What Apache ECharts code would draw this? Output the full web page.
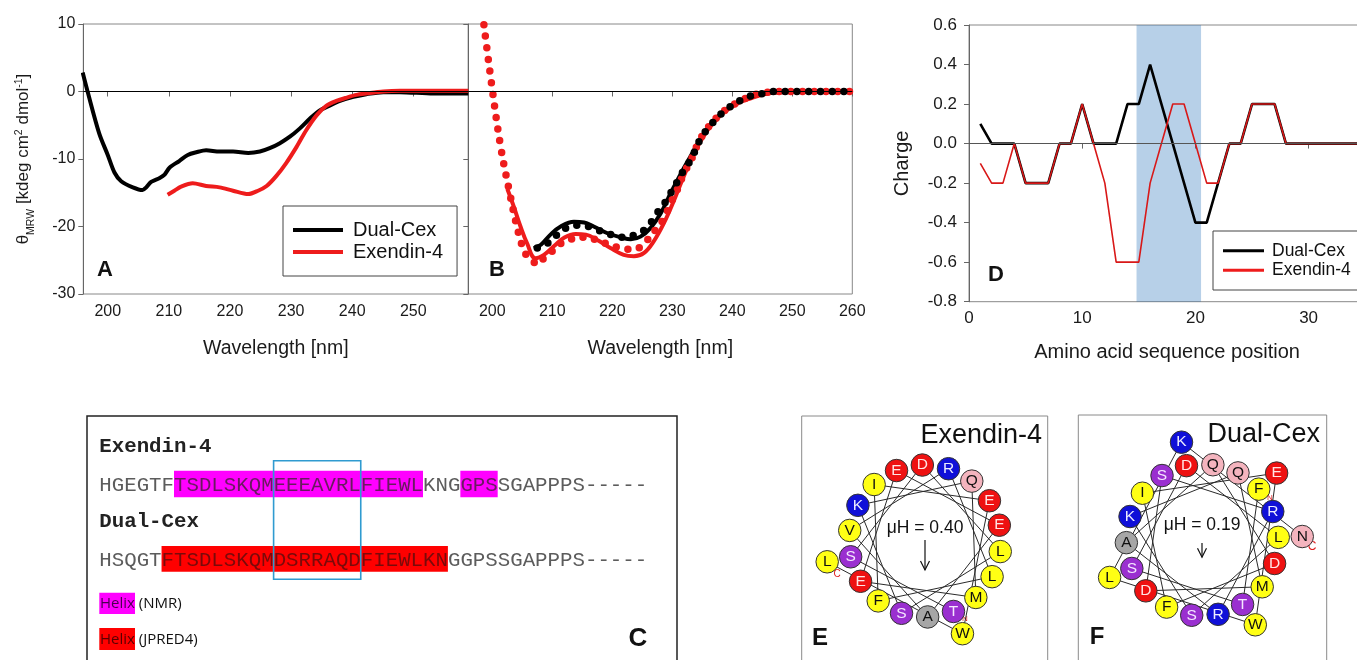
<!DOCTYPE html>
<html><head><meta charset="utf-8">
<script src="https://cdn.jsdelivr.net/npm/echarts@6/dist/echarts.min.js"></script>
<style>html,body{margin:0;padding:0;background:#fff}#c{width:1357px;height:660px}</style>
</head><body><div id="c"></div>
<script>
// ---------- Panel A (CD spectra) ----------
const aDualWl  = [195.9,196.7,198.6,200,201.1,202.2,204.1,205.7,206.3,207.1,208.5,209.3,210.1,211.7,213.1,214.5,216.1,218.3,220.5,223,224.9,226.5,228.1,229.8,231.4,233.1,234.7,236.3,238,240.2,242.3,245.1,247.8,253.3,259];
const aDualVal = [2.8,0,-6.2,-9.4,-12,-13.3,-14.2,-14.6,-14.2,-13.4,-12.8,-12.3,-11.3,-10.3,-9.4,-9,-8.7,-8.9,-8.9,-9.1,-8.9,-8.4,-7.7,-6.7,-5.5,-4,-2.8,-2.1,-1.4,-0.8,-0.4,-0.1,-0.1,-0.3,-0.3];
const aExWl  = [209.8,210.9,212,213.9,216.1,218.3,220.5,223,224.6,226,227.6,229.2,230.9,232.5,234.2,235.8,237.4,239.1,240.7,242.3,245.1,247.8,259];
const aExVal = [-15.3,-14.7,-14.1,-13.6,-14,-14.2,-14.7,-15.2,-14.7,-14,-12.5,-10.6,-8.2,-5.7,-3.5,-2.1,-1.4,-0.9,-0.5,-0.3,0,0.1,0.1];
// ---------- Panel B (measured dots + fitted lines) ----------
const bExFitWl  = [202.5,203.6,204.7,205.8,207.2,208.6,210.3,211.9,213.9,215.6,217.5,219.7,221.9,223.6,225.3,226.9,228.6,230.3,231.9,233.6,235.3,236.9,238.6,240.8,243.1,245.3,248,260];
const bExFitVal = [-14.4,-17.1,-20,-22.5,-24.7,-24.2,-22.9,-21.7,-21.1,-21.2,-22,-23.2,-24.2,-24.4,-23.9,-22.2,-19.5,-16.1,-12.6,-9.2,-6.5,-4.6,-3.1,-1.8,-1,-0.4,-0.1,0];
const bDualFitWl  = [206.9,208.1,209.7,211.4,213.6,215.3,216.9,219.2,221.4,223.1,224.7,226.4,228.1,229.7,231.4,233.1,234.7,236.4,238.1,240.3,242.5,244.7,247.5,260];
const bDualFitVal = [-23.2,-22.7,-21.2,-20,-19.3,-19.4,-20,-21,-21.6,-21.9,-21.5,-20.2,-18,-15.1,-12.2,-9.5,-7,-4.8,-3.3,-1.9,-1,-0.4,-0.1,0];
const bExDotWl  = [198.6,200,201.4,202.8,204.1,205,205.8,206.7,207.5,208.6,209.7,211.1,212.8,214.4,216.1,217.8,219.4,221.4,223.6,225.6,227.2,228.6,229.7,230.8,231.9,233.1,234.4,235.8,237.5,239.2,241.4,243.3,245.3,248,260];
const bExDotVal = [9.9,0.3,-8.2,-14.6,-20,-22.9,-24.4,-25.1,-25.6,-24.7,-23.9,-22.7,-22,-21.6,-21.7,-22.1,-22.7,-23.2,-23.4,-22.2,-20.5,-18.8,-16.6,-14.6,-12.2,-10.2,-7.5,-5.5,-3.8,-2.5,-1.4,-0.6,-0.2,0,0];
const bDualDotWl  = [207.5,209.2,211.1,212.8,214.4,216.1,217.5,219.2,220.8,222.5,224.2,225.8,227.2,228.6,229.7,230.8,231.9,233.1,234.7,236.1,237.8,239.4,241.4,243.3,245.3,247.2,260];
const bDualDotVal = [-23.2,-22.5,-21,-20,-19.8,-20,-20.5,-21,-21.5,-21.6,-21,-20.2,-18.3,-16.7,-15.1,-13.4,-11.7,-10.1,-7,-5.3,-3.6,-2.4,-1.3,-0.6,-0.3,0,0];
const wlTicksA = [200,210,220,230,240,250];
const wlTicksB = [200,210,220,230,240,250,260];
// ---------- Panel D (charge profile) ----------
const positions  = [1,2,3,4,5,6,7,8,9,10,11,12,13,14,15,16,17,18,19,20,21,22,23,24,25,26,27,28,29,30,31,32,33,34,35,36,37,38,39];
const chargeDual = [0.1,0,0,0,-0.2,-0.2,-0.2,0,0,0.2,0,0,0,0.2,0.2,0.4,0.2,0,-0.2,-0.4,-0.4,-0.2,0,0,0.2,0.2,0.2,0,0,0,0,0,0,0,0,0,0,0,0];
const chargeEx   = [-0.1,-0.2,-0.2,0,-0.2,-0.2,-0.2,0,0,0.2,0,-0.2,-0.6,-0.6,-0.6,-0.2,0,0.2,0.2,0,-0.2,-0.2,0,0,0.2,0.2,0.2,0,0,0,0,0,0,0,0,0,0,0,0];
const posTicks = [0,10,20,30];
const bandRange = [14.8, 20.5];
// ---------- Panel C (sequences) ----------
const seqExendin = 'HGEGTFTSDLSKQMEEEAVRLFIEWLKNGGPSSGAPPPS-----';
const seqDual    = 'HSQGTFTSDLSKQMDSRRAQDFIEWLKNGGPSSGAPPPS-----';
const helixNMR   = [[6,25],[29,31]];
const helixJPRED = [[5,27]];
const boxRange   = [14,20];
// ---------- Panels E/F (helical wheels) ----------
const wheelExSeq = 'TSDLSKQMEEEAVRLFIEWL';
const wheelExStart = 158;
const muHEx = 0.40;
const wheelDualSeq = 'FTSDLSKQMDSRRAQDFIEWLKN';
const wheelDualStart = 48;
const muHDual = 0.19;

const FONT = 'Liberation Sans, Arial, sans-serif';
const MONO = 'Liberation Mono, Courier New, monospace';
const RED = '#ee1c1c';
const pairs = (xs, ys) => xs.map((x, i) => [x, ys[i]]);

const zeroLine = (color) => ({
  silent: true, symbol: ['none','none'], label: {show:false},
  lineStyle: {color: color, width: 1, type: 'solid'}, data: [{yAxis: 0}]
});

// helical wheel construction
const classColor = {acid:'#ee1111', base:'#1010d8', polar:'#9a2fd0', amide:'#f4b4be', ala:'#a6a6a6', hydro:'#ffff14'};
const classText  = {acid:'#ffe4e4', base:'#ececff', polar:'#f5e8ff', amide:'#111', ala:'#111', hydro:'#111'};
function aaClass(a){
  if ('DE'.includes(a)) return 'acid';
  if ('KR'.includes(a)) return 'base';
  if ('ST'.includes(a)) return 'polar';
  if ('QN'.includes(a)) return 'amide';
  if (a === 'A') return 'ala';
  return 'hydro';
}
function wheelPoints(seq, start){
  return seq.split('').map((a, i) => [i < 18 ? 76 : 100, (start + 100 * i) % 360]);
}
function wheelItems(seq, start){
  const pts = wheelPoints(seq, start);
  const items = seq.split('').map((a, i) => {
    const c = aaClass(a);
    return {name: a, value: pts[i],
      itemStyle: {color: classColor[c], borderColor: '#333', borderWidth: 1, opacity: 1},
      label: {color: classText[c]}};
  });
  return items.slice(18).concat(items.slice(0, 18));
}

const series = [];
// A
series.push({name:'Dual-Cex', type:'line', xAxisIndex:0, yAxisIndex:0, data:pairs(aDualWl,aDualVal), smooth:0.3, symbol:'none', color:'#000', lineStyle:{width:4}, z:3, markLine: zeroLine('#000')});
series.push({name:'Exendin-4', type:'line', xAxisIndex:0, yAxisIndex:0, data:pairs(aExWl,aExVal), smooth:0.3, symbol:'none', color:RED, lineStyle:{width:4}, z:3});
// B
series.push({name:'Exendin-4', type:'line', xAxisIndex:1, yAxisIndex:1, data:pairs(bExFitWl,bExFitVal), smooth:0.4, symbol:'none', color:RED, lineStyle:{width:4}, z:3, markLine: zeroLine('#000')});
series.push({name:'Dual-Cex', type:'line', xAxisIndex:1, yAxisIndex:1, data:pairs(bDualFitWl,bDualFitVal), smooth:0.4, symbol:'none', color:'#000', lineStyle:{width:4}, z:3});
series.push({name:'Exendin-4', type:'line', xAxisIndex:1, yAxisIndex:1, data:pairs(bExDotWl,bExDotVal), smooth:0.4, symbol:'none', color:RED, lineStyle:{width:7.5, type:[0,11.7], cap:'round'}, z:4});
series.push({name:'Dual-Cex', type:'line', xAxisIndex:1, yAxisIndex:1, data:pairs(bDualDotWl,bDualDotVal), smooth:0.4, symbol:'none', color:'#000', lineStyle:{width:7.5, type:[0,11.7], cap:'round'}, z:4});
// D
series.push({name:'Dual-Cex', type:'line', xAxisIndex:2, yAxisIndex:2, data:pairs(positions,chargeDual), symbol:'none', color:'#000', lineStyle:{width:2.6}, z:3, markLine: zeroLine('#555')});
series.push({name:'Exendin-4', type:'line', xAxisIndex:2, yAxisIndex:2, data:pairs(positions,chargeEx), symbol:'none', color:'#d81818', lineStyle:{width:1.6}, z:4});
series.push({name:'band', type:'line', xAxisIndex:2, yAxisIndex:2, data:[], symbol:'none', z:10, silent:true,
  markArea:{silent:true, itemStyle:{color:'rgba(15,98,178,0.3)'}, data:[[{xAxis:bandRange[0]},{xAxis:bandRange[1]}]]}});
// E / F wheels
[[wheelExSeq, wheelExStart, 0], [wheelDualSeq, wheelDualStart, 1]].forEach(([seq, st, k]) => {
  series.push({type:'line', coordinateSystem:'polar', polarIndex:k, data: wheelPoints(seq, st), symbol:'none', silent:true,
    lineStyle:{color:'#2a2a2a', width:1}, z:2});
  series.push({type:'scatter', coordinateSystem:'polar', polarIndex:k, data: wheelItems(seq, st), symbolSize:22.5, silent:true, z:3,
    itemStyle:{opacity:1},
    label:{show:true, position:'inside', formatter:'{b}', fontSize:15.5, fontFamily:FONT}});
});

// graphic elements for panel C, wheel frames and panel letters
const CW = 20.75 * 0.6, X0 = 99.3;
function richSeq(seq, ranges, key){
  let out = '', i = 0;
  const inR = j => ranges.some(r => j >= r[0] && j <= r[1]);
  while (i < seq.length){
    const h = inR(i); let j = i;
    while (j < seq.length && inR(j) === h) j++;
    out += '{' + (h ? key : 'p') + '|' + seq.slice(i, j) + '}';
    i = j;
  }
  return out;
}
const monoRich = {
  p:{fill:'#5c5c5c', fontSize:20.75, fontFamily:MONO},
  m:{fill:'#6a1a60', fontSize:20.75, fontFamily:MONO},
  r:{fill:'#7a0a0a', fontSize:20.75, fontFamily:MONO}
};
const graphic = [];
const txt = (x, y, text, size, opts) => graphic.push(Object.assign({type:'text', x, y, silent:true,
  style: Object.assign({text, fontSize:size, fontFamily:FONT, fill:'#111', align:'left', verticalAlign:'middle'}, (opts||{}).style||{})}, (opts||{}).el||{}));
// panel letters
txt(105, 270, 'A', 22, {style:{fontWeight:'bold', align:'center'}});
txt(497, 270, 'B', 22, {style:{fontWeight:'bold', align:'center'}});
txt(996, 275, 'D', 22, {style:{fontWeight:'bold', align:'center'}});
// panel C
graphic.push({type:'rect', shape:{x:87, y:416, width:590, height:270}, style:{fill:'none', stroke:'#222', lineWidth:1.5}, silent:true});
helixNMR.forEach(r => graphic.push({type:'rect', shape:{x:X0 + r[0]*CW, y:470.7, width:(r[1]-r[0]+1)*CW, height:26.6}, style:{fill:'#ff00ff'}, silent:true}));
helixJPRED.forEach(r => graphic.push({type:'rect', shape:{x:X0 + r[0]*CW, y:546, width:(r[1]-r[0]+1)*CW, height:25.7}, style:{fill:'#ff0000'}, silent:true}));
graphic.push({type:'rect', shape:{x:X0 + boxRange[0]*CW, y:460.7, width:(boxRange[1]-boxRange[0]+1)*CW, height:118.6}, style:{fill:'none', stroke:'#2f9bd0', lineWidth:1.6}, silent:true, z:120});
txt(X0, 447, 'Exendin-4', 20.75, {style:{fontFamily:MONO, fontWeight:'bold', fill:'#222'}});
txt(X0, 522, 'Dual-Cex', 20.75, {style:{fontFamily:MONO, fontWeight:'bold', fill:'#222'}});
graphic.push({type:'text', x:X0, y:485, silent:true, style:{text:richSeq(seqExendin, helixNMR, 'm'), rich:monoRich, fontSize:20.75, fontFamily:MONO, verticalAlign:'middle'}});
graphic.push({type:'text', x:X0, y:560, silent:true, style:{text:richSeq(seqDual, helixJPRED, 'r'), rich:monoRich, fontSize:20.75, fontFamily:MONO, verticalAlign:'middle'}});
graphic.push({type:'rect', shape:{x:99.3, y:592.7, width:35.7, height:21.3}, style:{fill:'#ff00ff'}, silent:true});
graphic.push({type:'rect', shape:{x:99.3, y:628, width:35.7, height:22}, style:{fill:'#ff0000'}, silent:true});
const legRich = (c) => ({h:{fill:c, fontSize:15, fontFamily:'Open Sans'}, t:{fill:'#111', fontSize:15, fontFamily:'Open Sans'}});
graphic.push({type:'text', x:100, y:604, silent:true, style:{text:'{h|Helix}{t| (NMR)}', rich:legRich('#4a0050'), verticalAlign:'middle'}});
graphic.push({type:'text', x:100, y:640, silent:true, style:{text:'{h|Helix}{t| (JPRED4)}', rich:legRich('#5a0000'), verticalAlign:'middle'}});
txt(638, 639, 'C', 26, {style:{fontWeight:'bold', align:'center'}});
// wheel frames
graphic.push({type:'rect', shape:{x:801.7, y:416, width:246, height:270}, style:{fill:'none', stroke:'#8a8a8a', lineWidth:1}, silent:true});
graphic.push({type:'rect', shape:{x:1078.3, y:415, width:248.4, height:270}, style:{fill:'none', stroke:'#8a8a8a', lineWidth:1}, silent:true});
txt(1042, 436, 'Exendin-4', 27, {style:{align:'right'}});
txt(1320, 435, 'Dual-Cex', 27, {style:{align:'right'}});
txt(925, 528, 'μH = ' + muHEx.toFixed(2), 17.5, {style:{align:'center'}});
txt(1202, 525, 'μH = ' + muHDual.toFixed(2), 17.5, {style:{align:'center'}});
[[925, 540, muHEx], [1202, 543, muHDual]].forEach(([x, y, m]) => {
  const L = m * 75;
  graphic.push({type:'line', shape:{x1:x, y1:y, x2:x, y2:y+L}, style:{stroke:'#111', lineWidth:1.2}, silent:true});
  graphic.push({type:'polyline', shape:{points:[[x-4.5, y+L-9],[x, y+L],[x+4.5, y+L-9]]}, style:{stroke:'#111', lineWidth:1.2, fill:'none'}, silent:true});
});
txt(965, 619, 'N', 8, {style:{fill:'#e02020', align:'center'}});
txt(837, 574, 'C', 10, {style:{fill:'#e02020', align:'center'}});
txt(1270, 498, 'N', 8, {style:{fill:'#e02020', align:'center'}});
txt(1312, 547, 'C', 12, {style:{fill:'#e02020', align:'center'}});
txt(820, 638, 'E', 24, {style:{fontWeight:'bold', align:'center'}});
txt(1097, 637, 'F', 24, {style:{fontWeight:'bold', align:'center'}});

const axLine = {show:true, lineStyle:{color:'#666', width:1}};
const axTick = {show:true, length:5, lineStyle:{color:'#666'}};
const lab = (extra) => Object.assign({color:'#1a1a1a', fontSize:16, fontFamily:FONT}, extra||{});

const option = {
  animation:false,
  backgroundColor:'#fff',
  textStyle:{fontFamily:FONT},
  grid:[
    {left:83.3, top:24, width:385, height:270, show:true, borderColor:'#888', borderWidth:1, backgroundColor:'transparent', outerBoundsMode:'none'},
    {left:468.3, top:24, width:384, height:270, show:true, borderColor:'#888', borderWidth:1, backgroundColor:'transparent', outerBoundsMode:'none'},
    {left:969, top:25, width:396.2, height:276.7, show:true, borderColor:'#888', borderWidth:1, backgroundColor:'transparent', outerBoundsMode:'none'}
  ],
  xAxis:[
    {type:'value', gridIndex:0, min:196, max:259, axisLine:axLine, splitLine:{show:false},
     axisTick:Object.assign({customValues:wlTicksA}, axTick), axisLabel:lab({customValues:wlTicksA, margin:10}),
     name:'Wavelength [nm]', nameLocation:'middle', nameGap:45, nameTextStyle:{fontSize:19.5, color:'#1a1a1a'}},
    {type:'value', gridIndex:1, min:196, max:260, axisLine:axLine, splitLine:{show:false},
     axisTick:Object.assign({customValues:wlTicksB}, axTick), axisLabel:lab({customValues:wlTicksB, margin:10}),
     name:'Wavelength [nm]', nameLocation:'middle', nameGap:45, nameTextStyle:{fontSize:19.5, color:'#1a1a1a'}},
    {type:'value', gridIndex:2, min:0, max:35, axisLine:axLine, splitLine:{show:false},
     axisTick:Object.assign({customValues:posTicks}, axTick), axisLabel:lab({customValues:posTicks, margin:8, fontSize:17}),
     name:'Amino acid sequence position', nameLocation:'middle', nameGap:41, nameTextStyle:{fontSize:20, color:'#1a1a1a'}}
  ],
  yAxis:[
    {type:'value', gridIndex:0, min:-30, max:10, interval:10, axisLine:axLine, axisTick:axTick, splitLine:{show:false},
     axisLabel:lab({margin:8}),
     name:'{t|θ}{s|MRW}{t| [kdeg cm}{p|2}{t| dmol}{p|-1}{t|]}', nameLocation:'middle', nameGap:50,
     nameTextStyle:{rich:{
       t:{fontSize:17, fontFamily:FONT, color:'#1a1a1a', lineHeight:20, verticalAlign:'middle'},
       s:{fontSize:10.5, fontFamily:FONT, color:'#1a1a1a', lineHeight:20, verticalAlign:'bottom', padding:[0,0,-3,0]},
       p:{fontSize:10.5, fontFamily:FONT, color:'#1a1a1a', lineHeight:20, verticalAlign:'top'}}}},
    {type:'value', gridIndex:1, min:-30, max:10, interval:10, axisLine:axLine, axisTick:axTick, splitLine:{show:false},
     axisLabel:{show:false}},
    {type:'value', gridIndex:2, min:-0.8, max:0.6, interval:0.2, axisLine:axLine, axisTick:axTick, splitLine:{show:false},
     axisLabel:lab({margin:12, fontSize:17, formatter: v => v.toFixed(1)}),
     name:'Charge', nameLocation:'middle', nameGap:57, nameTextStyle:{fontSize:20, color:'#1a1a1a'}}
  ],
  polar:[
    {center:[925, 541], radius:100},
    {center:[1202.3, 540], radius:100}
  ],
  angleAxis:[
    {polarIndex:0, type:'value', min:0, max:360, startAngle:90, clockwise:true, show:false},
    {polarIndex:1, type:'value', min:0, max:360, startAngle:90, clockwise:true, show:false}
  ],
  radiusAxis:[
    {polarIndex:0, type:'value', min:0, max:100, show:false},
    {polarIndex:1, type:'value', min:0, max:100, show:false}
  ],
  legend:[
    {data:['Dual-Cex','Exendin-4'], left:283, top:206, orient:'vertical', itemGap:0, itemWidth:50, itemHeight:4, icon:'rect',
     padding:[13,14,13,10], borderColor:'#444', borderWidth:1, selectedMode:false,
     textStyle:{fontSize:20, lineHeight:22, color:'#111', fontFamily:FONT, padding:[0,0,0,5]}},
    {data:['Dual-Cex','Exendin-4'], left:1213, top:231, orient:'vertical', itemGap:0, itemWidth:41, itemHeight:3, icon:'rect',
     padding:[10,60,10,10], borderColor:'#444', borderWidth:1, selectedMode:false,
     textStyle:{fontSize:17.5, lineHeight:19.5, color:'#111', fontFamily:FONT, padding:[0,0,0,3]}}
  ],
  graphic: graphic,
  series: series
};
const chart = echarts.init(document.getElementById('c'), null, {renderer:'canvas'});
chart.setOption(option);
</script>
</body></html>
